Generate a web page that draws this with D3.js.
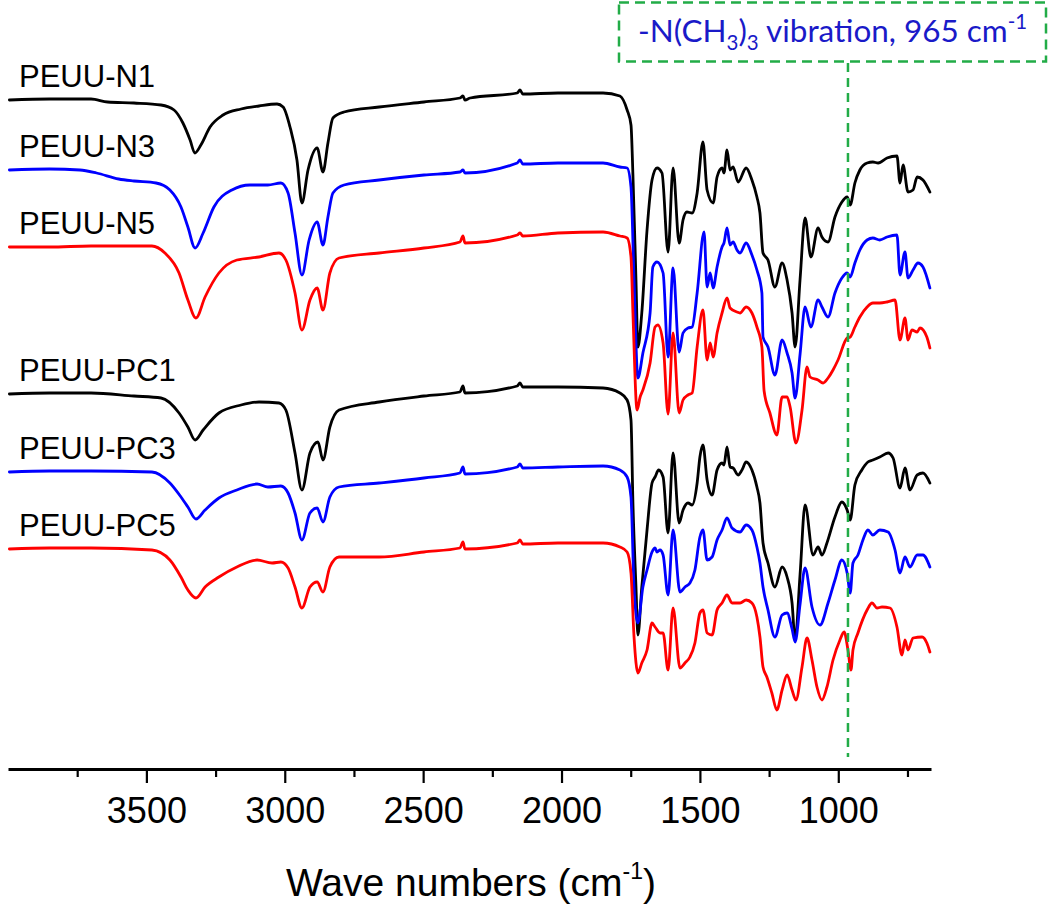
<!DOCTYPE html>
<html>
<head>
<meta charset="utf-8">
<script src="https://cdn.jsdelivr.net/npm/d3@7"></script>
<style>
  html, body { margin: 0; padding: 0; background: #fff; }
  svg { display: block; }
</style>
</head>
<body>
<svg id="chart" width="1050" height="912"></svg>
<script>
// ---------------- DATA (wavenumber cm-1, transmittance a.u. with stacking offset) ----------------
const seriesNames = ["PEUU-N1", "PEUU-N3", "PEUU-N5", "PEUU-PC1", "PEUU-PC3", "PEUU-PC5"];

const peuuN1 = [[3995,66.9],[3850,67.0],[3700,67.0],[3640,66.7],[3545,66.6],[3447,66.4],[3400,65.9],[3368,64.6],[3342,62.9],[3325,61.6],[3303,62.4],[3270,64.2],[3223,65.4],[3158,66.0],[3093,66.3],[3028,66.5],[3006,66.2],[2981,64.2],[2956,60.9],[2938,56.6],[2916,59.9],[2883,62.1],[2862,59.7],[2844,62.6],[2826,65.1],[2786,65.7],[2659,66.2],[2497,66.7],[2367,67.1],[2356,67.3],[2349,66.9],[2330,67.1],[2160,67.6],[2150,67.9],[2140,67.5],[2013,67.6],[1850,67.6],[1789,67.3],[1763,65.9],[1749,64.4],[1742,59.4],[1731,48.9],[1724,42.2],[1710,45.6],[1691,53.9],[1673,58.9],[1655,60.1],[1637,59.6],[1615,51.7],[1597,60.1],[1575,52.6],[1561,54.9],[1547,55.7],[1528,55.6],[1510,57.6],[1489,62.7],[1474,57.9],[1452,56.6],[1438,59.2],[1420,60.1],[1413,59.6],[1402,61.9],[1391,59.9],[1380,60.2],[1362,58.7],[1333,60.1],[1312,58.9],[1294,57.2],[1283,55.6],[1272,51.6],[1254,50.9],[1229,48.2],[1203,50.6],[1185,48.9],[1167,45.6],[1156,42.2],[1138,49.0],[1120,55.1],[1099,51.2],[1073,54.1],[1059,53.2],[1037,52.7],[1012,55.2],[987,56.7],[968,57.2],[957,56.4],[940,58.6],[922,59.9],[896,60.6],[875,60.7],[856,60.6],[824,61.1],[788,61.3],[777,58.6],[766,60.4],[748,57.7],[730,57.9],[715,59.2],[694,58.9],[669,57.7]];

const peuuN3 = [[3995,59.9],[3850,60.0],[3740,59.9],[3680,59.6],[3600,59.0],[3545,58.8],[3465,58.6],[3415,57.9],[3375,56.2],[3350,54.2],[3324,52.1],[3295,53.6],[3256,56.2],[3191,57.9],[3126,58.4],[3061,58.4],[3014,58.6],[2988,57.6],[2963,53.6],[2938,49.4],[2912,52.9],[2883,54.7],[2862,52.4],[2844,55.2],[2826,57.6],[2786,58.4],[2659,58.9],[2497,59.4],[2367,59.7],[2356,59.9],[2349,59.6],[2160,60.6],[2150,60.9],[2140,60.5],[2013,60.6],[1850,60.6],[1789,60.2],[1763,60.1],[1749,58.2],[1738,48.9],[1724,39.1],[1706,41.6],[1680,45.6],[1670,50.2],[1655,50.7],[1633,49.6],[1615,41.2],[1597,50.1],[1575,41.7],[1561,43.6],[1543,44.1],[1528,44.2],[1510,47.6],[1485,53.7],[1474,48.2],[1463,49.6],[1452,48.1],[1438,50.2],[1420,52.2],[1413,52.6],[1402,54.1],[1391,52.4],[1380,52.7],[1366,51.9],[1355,51.6],[1333,52.6],[1312,51.4],[1294,49.9],[1276,47.6],[1272,43.2],[1254,42.2],[1229,39.4],[1203,42.9],[1185,41.6],[1167,39.6],[1156,37.1],[1138,41.5],[1120,46.2],[1099,44.2],[1073,46.9],[1059,46.2],[1037,45.2],[1012,47.6],[987,49.1],[968,49.6],[957,49.2],[940,50.6],[922,51.9],[896,52.9],[875,53.1],[850,52.9],[824,53.2],[788,53.4],[777,49.4],[759,51.7],[748,49.1],[730,49.9],[712,50.6],[694,50.2],[669,48.1]];

const peuuN5 = [[3995,52.2],[3850,52.2],[3700,52.3],[3480,52.3],[3433,51.6],[3382,49.6],[3350,46.9],[3321,45.1],[3288,47.2],[3238,49.6],[3173,50.9],[3093,51.2],[3021,51.6],[2996,50.9],[2963,47.6],[2938,43.9],[2909,46.9],[2883,48.1],[2862,45.9],[2837,49.6],[2804,51.1],[2659,51.6],[2497,52.1],[2367,52.7],[2356,53.3],[2349,52.6],[2160,53.4],[2150,53.6],[2140,53.3],[2013,53.6],[1850,53.7],[1789,53.3],[1763,53.1],[1749,51.2],[1742,45.6],[1727,35.9],[1716,37.2],[1706,37.9],[1680,40.6],[1662,44.2],[1652,44.4],[1633,42.6],[1615,35.5],[1597,43.6],[1575,35.6],[1561,36.9],[1543,37.4],[1528,37.6],[1510,42.2],[1489,45.9],[1474,40.9],[1463,42.6],[1452,41.2],[1438,43.6],[1420,45.6],[1402,47.1],[1391,46.1],[1366,45.7],[1355,45.6],[1333,46.2],[1312,45.6],[1294,44.2],[1276,42.2],[1268,37.8],[1247,35.6],[1222,33.4],[1203,37.2],[1185,37.2],[1174,36.2],[1153,32.6],[1131,35.9],[1113,40.2],[1102,39.2],[1073,38.9],[1055,38.6],[1037,39.1],[1019,39.9],[1001,40.9],[968,43.1],[957,43.2],[940,44.2],[922,45.2],[896,46.2],[875,46.6],[850,46.6],[824,46.7],[795,46.9],[777,42.9],[759,45.1],[748,42.9],[734,43.9],[715,43.7],[705,44.1],[680,43.2],[669,42.1]];

const peuuPC1 = [[3995,37.5],[3850,37.6],[3700,37.6],[3545,37.3],[3447,37.1],[3382,35.6],[3350,34.2],[3324,32.9],[3295,33.9],[3238,35.6],[3158,36.4],[3093,36.7],[3021,36.6],[2996,35.9],[2963,31.6],[2938,27.9],[2909,31.6],[2880,32.7],[2862,30.9],[2837,34.2],[2804,35.9],[2659,36.7],[2497,37.3],[2367,37.7],[2356,38.3],[2349,37.6],[2160,38.3],[2150,38.6],[2140,38.2],[2013,38.2],[1850,38.1],[1789,37.6],[1763,36.9],[1749,34.9],[1742,26.6],[1731,18.2],[1724,13.4],[1710,18.2],[1691,23.9],[1673,28.6],[1662,29.2],[1649,29.9],[1633,29.2],[1615,23.6],[1597,31.6],[1575,24.6],[1561,25.9],[1543,26.6],[1528,26.4],[1510,28.6],[1500,31.2],[1489,32.4],[1474,28.9],[1456,27.4],[1438,29.9],[1420,30.6],[1413,30.4],[1402,32.2],[1391,30.2],[1380,30.1],[1362,29.4],[1348,29.9],[1333,30.7],[1312,29.9],[1294,28.2],[1283,26.6],[1272,22.6],[1254,20.6],[1229,18.2],[1203,20.2],[1185,19.2],[1167,16.6],[1156,12.9],[1138,19.5],[1120,26.4],[1091,21.4],[1073,22.2],[1059,21.4],[1041,22.6],[1012,25.2],[987,26.7],[968,25.9],[957,24.9],[940,28.4],[915,29.9],[893,30.7],[875,30.9],[850,31.2],[820,31.6],[802,31.1],[777,28.1],[759,30.1],[741,27.9],[715,29.4],[694,29.6],[669,28.6]];

const peuuPC3 = [[3995,29.7],[3850,29.8],[3700,29.8],[3480,29.7],[3415,28.6],[3375,27.2],[3350,26.2],[3321,25.0],[3288,25.9],[3238,27.1],[3173,27.9],[3100,28.5],[3061,28.2],[3014,28.3],[2988,27.6],[2963,25.6],[2938,22.9],[2909,25.6],[2883,26.1],[2862,24.7],[2837,27.2],[2804,28.2],[2659,28.6],[2497,29.1],[2367,29.6],[2356,30.2],[2349,29.5],[2160,30.2],[2150,30.5],[2140,30.1],[2013,30.2],[1850,30.3],[1789,29.9],[1763,29.2],[1749,27.2],[1738,18.2],[1724,14.6],[1706,18.2],[1691,19.9],[1673,21.7],[1662,22.1],[1655,21.7],[1644,21.9],[1633,21.4],[1615,17.4],[1597,23.9],[1572,17.7],[1554,18.2],[1536,18.6],[1518,19.9],[1500,23.2],[1489,23.9],[1474,20.9],[1456,21.2],[1438,22.9],[1420,23.9],[1402,25.1],[1384,24.1],[1355,23.7],[1333,24.4],[1312,23.9],[1294,22.2],[1283,20.6],[1272,18.2],[1254,15.9],[1229,13.2],[1203,15.4],[1185,15.6],[1167,14.0],[1156,12.7],[1138,16.5],[1120,20.1],[1095,16.2],[1066,14.4],[1037,16.6],[1012,18.9],[987,20.9],[968,19.6],[957,17.6],[947,20.6],[929,21.4],[911,22.9],[893,23.9],[875,23.4],[850,23.9],[820,23.7],[795,21.9],[777,19.6],[759,21.2],[741,20.2],[715,21.4],[694,21.4],[669,20.2]];

const peuuPC5 = [[3995,22.0],[3850,22.1],[3700,22.1],[3480,21.9],[3415,20.9],[3375,19.2],[3350,17.9],[3321,17.1],[3288,18.2],[3238,19.2],[3173,20.2],[3100,20.9],[3046,20.6],[3014,20.7],[2988,20.1],[2963,18.2],[2938,16.1],[2909,18.2],[2883,18.7],[2862,17.7],[2837,20.2],[2804,21.2],[2659,21.2],[2497,21.7],[2367,22.1],[2356,22.7],[2349,22.0],[2160,22.6],[2150,22.9],[2140,22.5],[2013,22.6],[1850,22.6],[1789,22.2],[1763,21.7],[1749,19.6],[1738,13.2],[1724,9.6],[1710,10.6],[1691,11.9],[1673,14.6],[1662,14.2],[1644,13.6],[1633,13.6],[1615,9.9],[1597,16.1],[1572,10.1],[1554,10.6],[1536,11.2],[1518,12.6],[1500,15.6],[1489,15.9],[1474,13.6],[1456,13.4],[1438,15.9],[1420,16.6],[1402,17.4],[1384,16.6],[1355,16.6],[1333,16.9],[1312,16.6],[1294,15.2],[1283,13.2],[1272,10.2],[1258,9.2],[1240,7.6],[1222,5.9],[1203,7.9],[1185,9.4],[1167,7.9],[1153,6.9],[1131,10.2],[1113,13.1],[1095,10.9],[1077,8.2],[1059,6.9],[1041,8.2],[1019,10.9],[994,12.9],[979,13.7],[965,11.9],[954,9.9],[947,11.9],[929,13.6],[896,15.9],[878,16.6],[860,16.1],[842,16.2],[813,16.1],[788,14.2],[770,11.4],[759,12.9],[748,11.9],[730,13.1],[697,13.2],[680,12.6],[669,11.7]];

const seriesValues = [peuuN1, peuuN3, peuuN5, peuuPC1, peuuPC3, peuuPC5];

const xTicksMajor = [3500, 3000, 2500, 2000, 1500, 1000];
const xTicksMinor = [3750, 3250, 2750, 2250, 1750, 1250, 750];
const xDomain = [4000, 665];
const yDomain = [0, 76.9];
const markerWavenumber = 965;
const axisTitle = "Wave numbers (cm";
const axisTitleSup = "-1";
const noteParts = [["-N(CH", "n"], ["3", "sub"], [")", "n"], ["3", "sub"], [" vibration, 965 cm", "n"], ["-1", "sup"]];

// ---------------- STYLE ----------------
const seriesColors = ["#000000", "#0000ff", "#ff0000", "#000000", "#0000ff", "#ff0000"];
const green = "#22ac47";
const noteBlue = "#1a1ac8";

// ---------------- DRAW ----------------
const svg = d3.select("#chart");
const axisY = 769;
const x = d3.scaleLinear().domain(xDomain).range([8, 931]);
const y = d3.scaleLinear().domain(yDomain).range([axisY, 0]);

const line = d3.line()
  .x(d => x(d[0]))
  .y(d => y(d[1]))
  .curve(d3.curveMonotoneX);

svg.append("g").selectAll("path")
  .data(seriesValues)
  .join("path")
  .attr("d", d => line(d))
  .attr("fill", "none")
  .attr("stroke", (d, i) => seriesColors[i])
  .attr("stroke-width", 2.8)
  .attr("stroke-linejoin", "round")
  .attr("stroke-linecap", "round");

// series labels
svg.append("g").selectAll("text")
  .data(seriesValues)
  .join("text")
  .attr("x", 19)
  .attr("y", d => y(d[0][1]) - 13)
  .attr("font-family", "'Liberation Sans', Arial, sans-serif")
  .attr("font-size", 31)
  .attr("fill", "#000")
  .text((d, i) => seriesNames[i]);

// x axis: major ticks
const gAxis = svg.append("g").attr("transform", `translate(0,${axisY})`);
gAxis.call(d3.axisBottom(x).tickValues(xTicksMajor).tickSize(14).tickSizeOuter(0).tickPadding(14).tickFormat(d3.format("d")));
gAxis.select(".domain").attr("stroke", "#000").attr("stroke-width", 3.2);
gAxis.selectAll(".tick line").attr("stroke", "#000").attr("stroke-width", 2.2);
gAxis.selectAll(".tick text")
  .attr("font-family", "'Liberation Sans', Arial, sans-serif")
  .attr("font-size", 36)
  .attr("fill", "#000");
// minor ticks
const gMinor = svg.append("g").attr("transform", `translate(0,${axisY})`);
gMinor.call(d3.axisBottom(x).tickValues(xTicksMinor).tickSize(8).tickSizeOuter(0).tickFormat(""));
gMinor.select(".domain").remove();
gMinor.selectAll(".tick line").attr("stroke", "#000").attr("stroke-width", 2.2);

// axis title
const title = svg.append("text")
  .attr("x", 471)
  .attr("y", 896)
  .attr("text-anchor", "middle")
  .attr("font-family", "'Liberation Sans', Arial, sans-serif")
  .attr("font-size", 39)
  .attr("fill", "#000");
title.append("tspan").text(axisTitle);
title.append("tspan").attr("dy", -17).attr("font-size", 23).text(axisTitleSup);
title.append("tspan").attr("dy", 17).text(")");

// annotation: dashed vertical line at 965 cm-1
svg.append("line")
  .attr("x1", x(markerWavenumber)).attr("x2", x(markerWavenumber))
  .attr("y1", 63).attr("y2", 757)
  .attr("stroke", green)
  .attr("stroke-width", 2.5)
  .attr("stroke-dasharray", "9,6");

// annotation box
svg.append("rect")
  .attr("x", 619).attr("y", 2.5)
  .attr("width", 427).attr("height", 59)
  .attr("fill", "#fff")
  .attr("stroke", green)
  .attr("stroke-width", 2.5)
  .attr("stroke-dasharray", "10,6");

const note = svg.append("text")
  .attr("x", 638)
  .attr("y", 42)
  .attr("font-family", "Lato, 'Open Sans', sans-serif")
  .attr("font-size", 31)
  .attr("fill", noteBlue);
let prevShift = 0;
noteParts.forEach(([t, kind]) => {
  const shift = kind === "sub" ? 8 : kind === "sup" ? -13 : 0;
  note.append("tspan")
    .attr("dy", shift - prevShift)
    .attr("font-size", kind === "n" ? null : 20)
    .text(t);
  prevShift = shift;
});
// fit the note to the box width seen in the reference
const targetW = 389;
const w = note.node().getComputedTextLength();
if (w > 0) {
  const fs = 31 * targetW / w;
  note.attr("font-size", fs);
  note.selectAll("tspan").each(function(d, i) {
    const kind = noteParts[i][1];
    if (kind !== "n") d3.select(this).attr("font-size", fs * 0.65);
  });
}
</script>
</body>
</html>
